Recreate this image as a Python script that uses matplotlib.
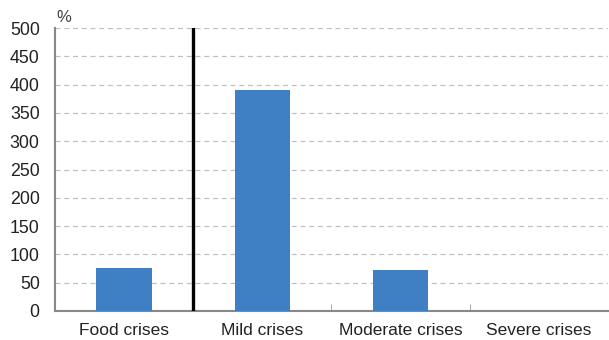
import matplotlib.pyplot as plt
import numpy as np

plt.rcParams['font.family'] = ['Liberation Sans', 'DejaVu Sans']

categories = ["Food crises", "Mild crises", "Moderate crises", "Severe crises"]
values = [76, 390, 72, 0]
yticks = [0, 50, 100, 150, 200, 250, 300, 350, 400, 450, 500]

fig = plt.figure(figsize=(6.09, 3.40), dpi=100)
ax = fig.add_axes([0.0903, 0.0853, 0.9080, 0.8323])

x = np.arange(len(categories))
ax.bar(x, values, width=0.4, color="#3f7fc4", zorder=3)

ax.set_xlim(-0.5, len(categories) - 0.5)
ax.set_ylim(0, 500)
ax.set_yticks(yticks)
ax.set_xticks(x)
ax.set_xticklabels(categories, fontsize=12.5, color="#222222")
ax.tick_params(axis="y", labelsize=12.8, length=0, pad=11, labelcolor="#222222")
ax.tick_params(axis="x", length=0, pad=9)

# boundary ticks on the x axis
ax.set_xticks(x[1:] - 0.5, minor=True)
ax.tick_params(axis="x", which="minor", length=5, direction="in", color="#999999")

ax.grid(axis="y", color="#c0c0c0", linestyle=(0, (4, 3)), linewidth=0.9, zorder=0)
ax.axvline(0.5, color="black", linewidth=2.4, zorder=4)

for s in ["top", "right"]:
    ax.spines[s].set_visible(False)
for s in ["left", "bottom"]:
    ax.spines[s].set_color("#888888")
    ax.spines[s].set_linewidth(1.5)

fig.text(0.093, 0.935, "%", fontsize=12, color="#444444")

fig.savefig("out.png", dpi=100)
